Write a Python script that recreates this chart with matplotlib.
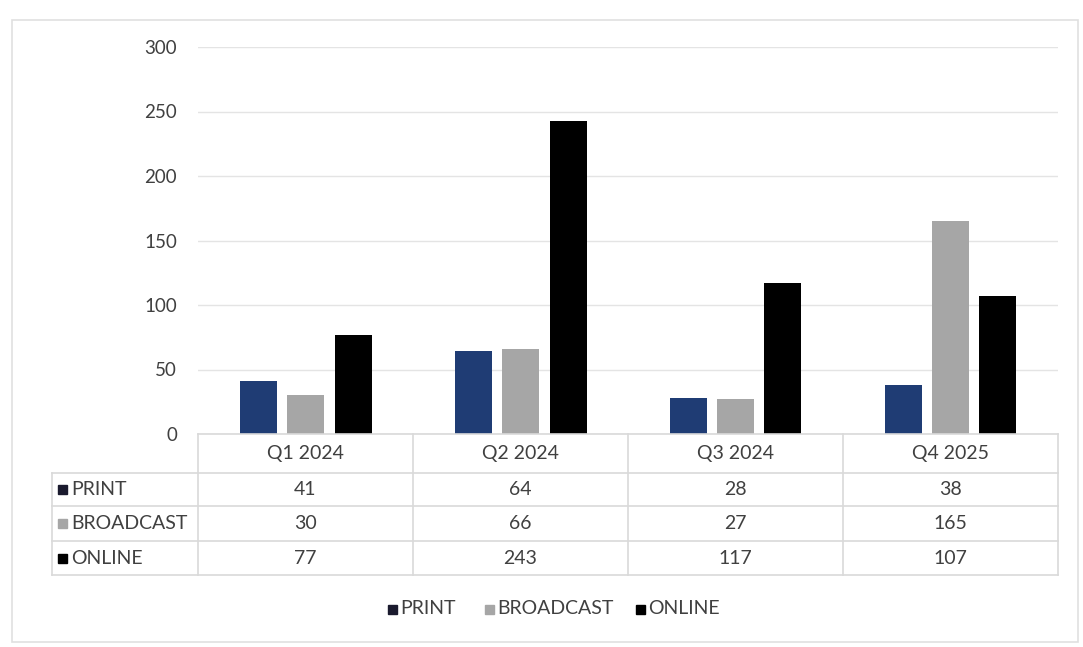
import numpy as np
import matplotlib
matplotlib.use("Agg")
import matplotlib.pyplot as plt
from matplotlib.patches import Rectangle
from matplotlib.transforms import blended_transform_factory

quarters = ["Q1 2024", "Q2 2024", "Q3 2024", "Q4 2025"]
series_names = ["PRINT", "BROADCAST", "ONLINE"]
print_vals = [41, 64, 28, 38]
broadcast_vals = [30, 66, 27, 165]
online_vals = [77, 243, 117, 107]
y_ticks = [0, 50, 100, 150, 200, 250, 300]

colors = ["#1F3C74", "#A6A6A6", "#000000"]
key_colors = ["#1A1A2E", "#A6A6A6", "#000000"]
text_color = "#404040"
line_color = "#D9D9D9"
fs = 14

plt.rcParams['font.family'] = ['Lato', 'DejaVu Sans']

W, H = 1083, 647
fig = plt.figure(figsize=(W / 100, H / 100), dpi=100)


def fx(x):
    return x / W


def fy(y):
    # pixel row from the top -> figure fraction
    return 1 - y / H


# plot area
left, right, top, bottom = 198, 1058, 47, 434
ax = fig.add_axes([fx(left), fy(bottom), fx(right - left), fy(top) - fy(bottom)])

series = [print_vals, broadcast_vals, online_vals]
n = len(quarters)
x = np.arange(n) + 0.5
bar_w = 37 / 215
step = 47.5 / 215
for k, vals in enumerate(series):
    ax.bar(x + (k - 1) * step, vals, width=bar_w, color=colors[k], zorder=3)

ax.set_xlim(0, n)
ax.set_ylim(0, 300)
ax.set_yticks(y_ticks)
ax.set_yticklabels([str(t) for t in y_ticks], color=text_color, fontsize=fs - 0.5)
ax.tick_params(axis="y", length=0, pad=15)
ax.set_xticks([])
ax.grid(axis="y", color="#E4E4E4", linewidth=1, zorder=0)
for s in ax.spines.values():
    s.set_visible(False)

# data table below the plot
tr = blended_transform_factory(ax.transData, fig.transFigure)
row_lines = [473, 506, 541, 575]
table_left = 52

# horizontal rules
for y in row_lines:
    fig.add_artist(plt.Line2D([fx(table_left), fx(right)], [fy(y), fy(y)],
                              color=line_color, lw=1.2))
fig.add_artist(plt.Line2D([fx(left), fx(right)], [fy(bottom), fy(bottom)],
                          color=line_color, lw=1.2))
# vertical rules
for i in range(n + 1):
    xp = left + i * (right - left) / n
    fig.add_artist(plt.Line2D([fx(xp), fx(xp)], [fy(bottom), fy(row_lines[-1])],
                              color=line_color, lw=1.2))
fig.add_artist(plt.Line2D([fx(table_left), fx(table_left)],
                          [fy(row_lines[0]), fy(row_lines[-1])],
                          color=line_color, lw=1.2))

# header row with quarter names
for i, q in enumerate(quarters):
    fig.text(x[i], fy(453), q, transform=tr, ha="center", va="center",
             fontsize=fs, color=text_color)

# value rows
for k, (name, vals) in enumerate(zip(series_names, series)):
    yc = (row_lines[k] + row_lines[k + 1]) / 2
    fig.add_artist(Rectangle((fx(58), fy(yc + 4.5)), fx(9), fy(0) - fy(9),
                             color=key_colors[k]))
    fig.text(fx(71), fy(yc), name, ha="left", va="center",
             fontsize=fs, color=text_color)
    for i, v in enumerate(vals):
        fig.text(x[i], fy(yc), str(v), transform=tr, ha="center", va="center",
                 fontsize=fs, color=text_color)

# legend
leg_y = 609
leg_items = [(392, "PRINT"), (489, "BROADCAST"), (640, "ONLINE")]
for k, (xp, name) in enumerate(leg_items):
    fig.add_artist(Rectangle((fx(xp - 4.5), fy(leg_y + 4.5)), fx(9), fy(0) - fy(9),
                             color=key_colors[k]))
    fig.text(fx(xp + 8), fy(leg_y), name, ha="left", va="center",
             fontsize=fs, color=text_color)

# chart frame
fig.add_artist(Rectangle((fx(12), fy(642)), fx(1066), fy(20) - fy(642),
                         fill=False, edgecolor="#E0E0E0", lw=1.2))

fig.savefig("out.png", dpi=100)
